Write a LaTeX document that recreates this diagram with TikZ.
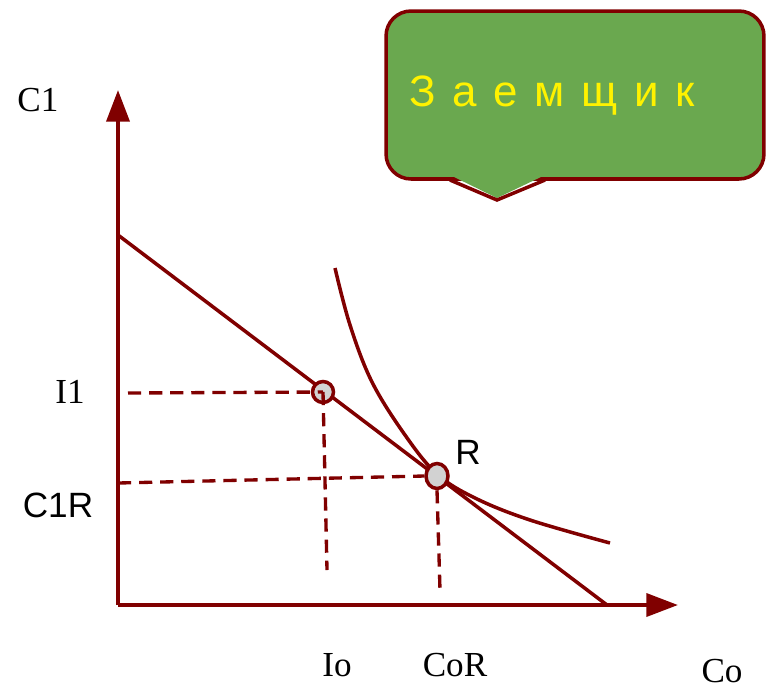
\documentclass[tikz,border=0pt]{standalone}
\usepackage{fontspec}
\setmainfont{Liberation Serif}
\newfontfamily\labelsans{Liberation Sans}
\usetikzlibrary{arrows.meta, positioning, shapes.geometric}
\definecolor{axisred}{RGB}{128,0,0}
\definecolor{boxgreen}{RGB}{106,168,79}
\definecolor{dotgray}{RGB}{210,210,210}

\begin{document}
\begin{tikzpicture}[x=0.02cm, y=-0.02cm,
  axis/.style={axisred, line width=2.3pt, -{Triangle[length=18pt,width=13pt]}},
  budget/.style={axisred, line width=2pt},
  guide/.style={axisred, line width=1.9pt, dash pattern=on 7.5pt off 4.5pt},
  dot/.style={circle, draw=axisred, fill=dotgray, line width=2pt, inner sep=0pt},
  serlab/.style={font=\fontsize{20}{24}\selectfont},
  sanlab/.style={font=\labelsans\fontsize{20}{24}\selectfont},
  bubble/.style={draw=axisred, fill=boxgreen, line width=2pt, rounded corners=0.5cm}]
  \useasboundingbox (0,0) rectangle (767,691);
  % axes
  \coordinate (O) at (118,605);
  \coordinate (yTip) at (118,90);
  \coordinate (xTip) at (678,605);
  \draw[axis] (O) -- (yTip);
  \draw[axis] (O) -- (xTip);
  % budget line and indifference curve
  \coordinate (bTop) at (118,235);
  \coordinate (bBot) at (607,605);
  \draw[budget] (bTop) -- (bBot);
  \draw[budget] plot[smooth, tension=0.6] coordinates {(335,268) (350,325) (372,382)
    (405,435) (437,474) (475,498) (530,520) (610,543)};
  % points
  \node[dot, minimum size=0.42cm] (pI) at (323,392) {};
  \node[dot, ellipse, minimum width=0.44cm, minimum height=0.5cm] (pR) at (437,476) {};
  \coordinate (hI) at (128,393);
  \coordinate (vI) at (327,570);
  \coordinate (hR) at (118,483);
  \coordinate (vR) at (440,590);
  \draw[guide] (hI) -- (pI.center);
  \draw[guide] (pI.center) -- (vI);
  \draw[guide] (hR) -- (pR.west);
  \draw[guide] (pR.south) -- (vR);
  % labels
  \node[serlab] (lC1) at (38,100) {C1};
  \node[serlab] (lI1) at (70,392) {I1};
  \node[sanlab] (lC1R) at (58,505) {C1R};
  \node[sanlab] (lR) at (468,452) {R};
  \node[serlab] (lIo) at (337,665) {Io};
  \node[serlab] (lCoR) at (455,665) {CoR};
  \node[serlab] (lCo) at (722,671) {Co};
  % callout
  \node[bubble, minimum width=7.56cm, minimum height=3.36cm] (callout) at (575,95) {};
  \fill[boxgreen] (452,176) -- (497,198) -- (543,176) -- cycle;
  \draw[axisred, line width=2pt] (450,180) -- (497,200) -- (545,180);
  \node[anchor=west, inner sep=0pt, text=yellow,
    font=\labelsans\fontsize{25}{30}\selectfont] (lTitle) at (409,96)
    {\spaceskip=0.38em З а е м щ и к};
\end{tikzpicture}
\end{document}
